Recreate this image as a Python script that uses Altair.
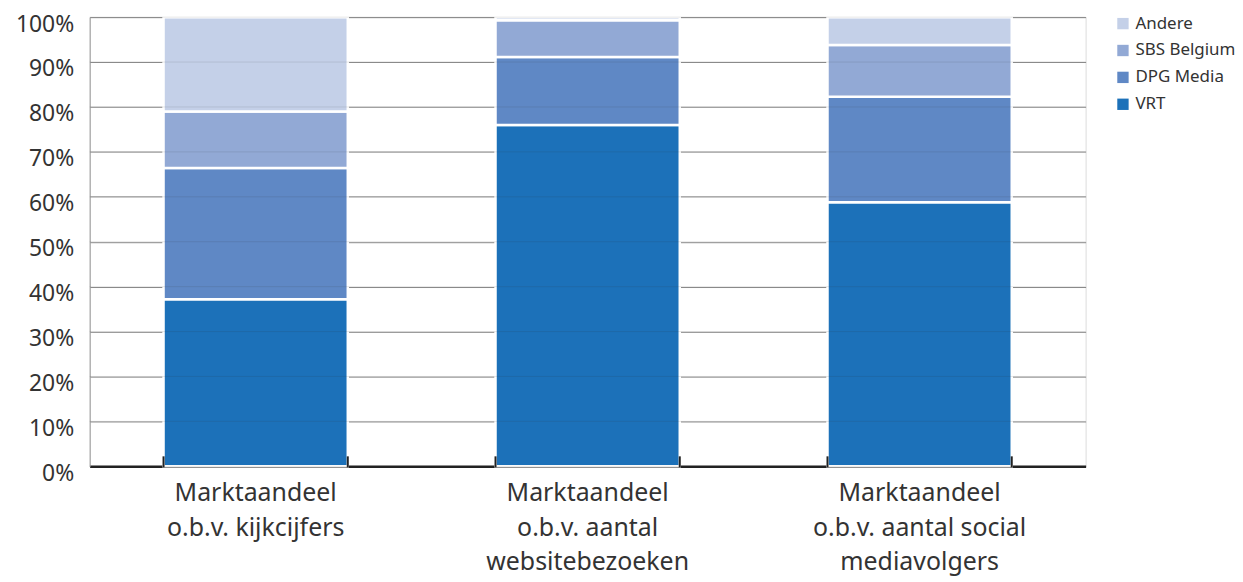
import altair as alt
import pandas as pd

categories = [
    "Marktaandeel|o.b.v. kijkcijfers",
    "Marktaandeel|o.b.v. aantal|websitebezoeken",
    "Marktaandeel|o.b.v. aantal social|mediavolgers",
]
series = ["VRT", "DPG Media", "SBS Belgium", "Andere"]
vrt = [37.2, 76.0, 58.8]
dpg = [29.2, 15.1, 23.5]
sbs = [12.6, 8.2, 11.5]
andere = [21.0, 0.7, 6.2]
colors = ["#1c71b9", "#5f88c5", "#92a9d5", "#c4d0e8"]
y_ticks = [0, 10, 20, 30, 40, 50, 60, 70, 80, 90, 100]

rows = []
for i, c in enumerate(categories):
    for j, (s, vals) in enumerate(zip(series, [vrt, dpg, sbs, andere])):
        rows.append({"cat": c, "series": s, "value": vals[i], "order": j})
df = pd.DataFrame(rows)
cat_df = pd.DataFrame({"cat": categories})
grid_df = pd.DataFrame({"v": y_ticks})

FONT = "Noto Sans"
W, H = 1000, 451

x_enc = alt.X(
    "cat:N",
    sort=categories,
    title=None,
    scale=alt.Scale(paddingInner=0.445, paddingOuter=0.2225),
    axis=alt.Axis(
        labelAngle=0,
        labelExpr="split(datum.label, '|')",
        labelFontSize=25,
        labelLineHeight=35,
        labelPadding=14,
        labelLimit=0,
        labelColor="#333333",
        labelFont=FONT,
        ticks=False,
        domainColor="#222222",
        domainWidth=2.5,
        grid=False,
    ),
)
y_scale = alt.Scale(domain=[0, 100], nice=False)

bars = alt.Chart(df).mark_bar(stroke="white", strokeWidth=2.5).encode(
    x=x_enc,
    y=alt.Y(
        "value:Q",
        stack="zero",
        scale=y_scale,
        title=None,
        axis=alt.Axis(
            values=y_ticks,
            labelExpr="datum.value + '%'",
            labelFontSize=23,
            labelColor="#333333",
            labelFont=FONT,
            labelOffset=7,
            labelPadding=16,
            ticks=False,
            domainColor="#999999",
            domainWidth=1,
            grid=True,
            gridColor="#8a8a8a",
            gridWidth=1,
        ),
    ),
    color=alt.Color(
        "series:N",
        sort=series[::-1],
        scale=alt.Scale(domain=series[::-1], range=colors[::-1]),
        legend=alt.Legend(
            title=None,
            orient="none",
            legendX=1029,
            legendY=-2,
            symbolType="square",
            symbolSize=130,
            symbolStrokeWidth=0,
            labelFontSize=17,
            labelFont=FONT,
            labelColor="#333333",
            labelLimit=0,
            rowPadding=9,
            direction="vertical",
        ),
    ),
    order=alt.Order("order:Q", sort="ascending"),
)

grid_overlay = alt.Chart(grid_df).mark_rule(color="#333333", opacity=0.12, strokeWidth=1).encode(
    y=alt.Y("v:Q", scale=y_scale),
)

ticks_left = alt.Chart(cat_df).mark_rule(color="#222222", strokeWidth=2).encode(
    x=alt.X("cat:N", sort=categories, bandPosition=0),
    y=alt.value(H - 10),
    y2=alt.value(H + 1),
)
ticks_right = alt.Chart(cat_df).mark_rule(color="#222222", strokeWidth=2).encode(
    x=alt.X("cat:N", sort=categories, bandPosition=1),
    y=alt.value(H - 10),
    y2=alt.value(H + 1),
)

chart = alt.layer(bars, grid_overlay, ticks_left, ticks_right).properties(
    width=W,
    height=H,
    autosize="none",
    padding={"left": 82, "top": 8, "right": 150, "bottom": 114},
).configure_view(stroke=None).configure(background="white")

chart.save("out.html", embed_options={"renderer": "svg", "actions": False})
